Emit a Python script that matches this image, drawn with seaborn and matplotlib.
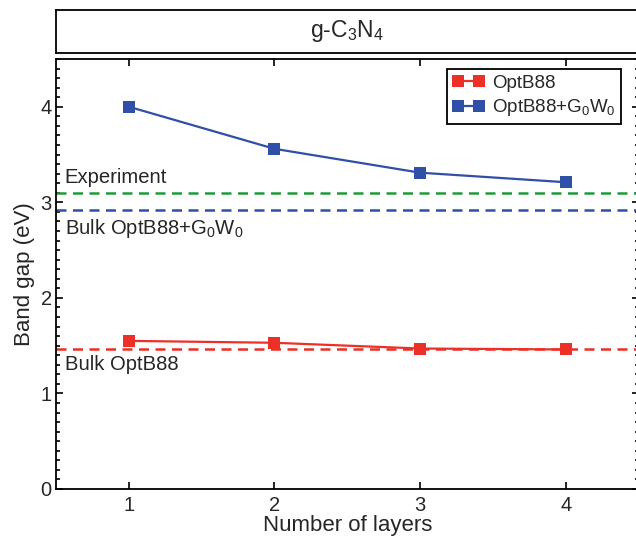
import pandas as pd
import numpy as np
import matplotlib
matplotlib.use("Agg")
import matplotlib.pyplot as plt
import seaborn as sns
from matplotlib.ticker import MultipleLocator

# data
layers = [1, 2, 3, 4]
optb88 = [1.55, 1.53, 1.47, 1.46]
optb88_g0w0 = [4.00, 3.56, 3.31, 3.21]
experiment = 3.10
bulk_g0w0 = 2.92
bulk_optb88 = 1.47

red = "#ec3028"
blue = "#3050a8"
green = "#1e9a3c"

sns.set_style("ticks")
plt.rcParams["font.family"] = ["Liberation Sans", "DejaVu Sans"]
plt.rcParams["mathtext.fontset"] = "custom"
plt.rcParams["mathtext.rm"] = "Liberation Sans"
plt.rcParams["mathtext.it"] = "Liberation Sans"

df = pd.DataFrame({
    "layers": layers * 2,
    "gap": optb88 + optb88_g0w0,
    "method": ["OptB88"] * 4 + ["OptB88+G$_0$W$_0$"] * 4,
})

fig = plt.figure(figsize=(6.36, 5.37), dpi=100)
ax = fig.add_axes([0.088, 0.0894, 0.916, 0.8008])

# reference lines
dash = (0, (4, 2.6))
ax.axhline(experiment, color=green, lw=1.8, ls=dash, zorder=1)
ax.axhline(bulk_g0w0, color=blue, lw=1.8, ls=dash, zorder=1)
ax.axhline(bulk_optb88, color=red, lw=1.8, ls=dash, zorder=1)

sns.lineplot(data=df, x="layers", y="gap", hue="method",
             palette=[red, blue], marker="s", markersize=8,
             markeredgewidth=0, lw=1.6, ax=ax, legend=False, zorder=3)

ax.text(0.56, experiment + 0.06, "Experiment", fontsize=14.6, va="bottom")
ax.text(0.56, bulk_g0w0 - 0.07, "Bulk OptB88+G$_0$W$_0$", fontsize=14.6, va="top")
ax.text(0.56, bulk_optb88 - 0.07, "Bulk OptB88", fontsize=14.6, va="top")

ax.set_xlim(0.5, 4.5)
ax.set_ylim(0, 4.5)
ax.set_xticks(layers)
ax.set_yticks([0, 1, 2, 3, 4])
ax.yaxis.set_minor_locator(MultipleLocator(0.1))
ax.tick_params(which="both", direction="in", top=True, right=True,
               labelsize=14.5, width=1.2, color="black")
ax.tick_params(which="major", length=5)
ax.tick_params(which="minor", length=3)
ax.tick_params(axis="x", pad=5)
ax.tick_params(axis="y", pad=3)
for s in ax.spines.values():
    s.set_linewidth(1.3)
    s.set_color("black")
ax.set_xlabel("Number of layers", fontsize=16, labelpad=0)
ax.set_ylabel("Band gap (eV)", fontsize=16, labelpad=4)

handles = [
    plt.Line2D([], [], color=red, marker="s", markersize=8, markeredgewidth=0, lw=1.6),
    plt.Line2D([], [], color=blue, marker="s", markersize=8, markeredgewidth=0, lw=1.6),
]
leg = ax.legend(handles, ["OptB88", "OptB88+G$_0$W$_0$"], loc="upper right",
                bbox_to_anchor=(0.970, 0.977), borderaxespad=0, numpoints=2,
                fontsize=13.5, handlelength=1.7, handletextpad=0.4,
                borderpad=0.3, labelspacing=0.3, fancybox=False,
                framealpha=1, edgecolor="black")
leg.get_frame().set_linewidth(1.3)

# title box
tax = fig.add_axes([0.088, 0.9013, 0.916, 0.0801])
tax.set_xticks([])
tax.set_yticks([])
for s in tax.spines.values():
    s.set_linewidth(1.3)
    s.set_color("black")
tax.text(0.5, 0.5, "g-C$_3$N$_4$", fontsize=16.5, ha="center", va="center",
         transform=tax.transAxes)

fig.savefig("out.png", dpi=100)
